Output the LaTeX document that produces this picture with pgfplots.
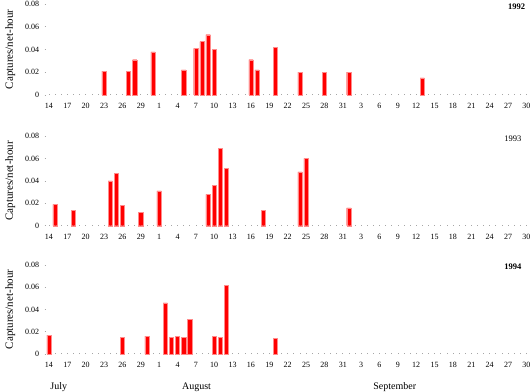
\documentclass[border=0pt]{standalone}
\usepackage{fontspec}
\setmainfont{Liberation Serif}
\usepackage{pgfplots}
\pgfplotsset{compat=1.18}
\usepackage{pgfplotstable}

% day index: 0 = July 14
\pgfplotstableread{
d v
9 0.021
13 0.021
14 0.031
17 0.038
22 0.022
24 0.041
25 0.047
26 0.053
27 0.040
33 0.031
34 0.022
37 0.042
41 0.020
45 0.020
49 0.020
61 0.015
}\dataA
\pgfplotstableread{
d v
1 0.019
4 0.014
10 0.040
11 0.047
12 0.018
15 0.012
18 0.031
26 0.028
27 0.036
28 0.069
29 0.051
35 0.014
41 0.048
42 0.060
49 0.016
}\dataB
\pgfplotstableread{
d v
0 0.017
12 0.015
16 0.016
19 0.046
20 0.015
21 0.016
22 0.015
23 0.031
27 0.016
28 0.015
29 0.062
37 0.014
}\dataC

\pgfplotsset{panel/.style={
  scale only axis, width=483.5pt,
  xmin=-0.7, xmax=78.3, ymin=0, ymax=0.08,
  axis line style={draw=none},
  tick pos=left,
  scaled y ticks=false,
  xtick={0,3,...,78},
  xticklabels={14,17,20,23,26,29,1,4,7,10,13,16,19,22,25,28,31,3,6,9,12,15,18,21,24,27,30},
  minor x tick num=2,
  ytick={0,0.02,0.04,0.06,0.08}, yticklabels={0,0.02,0.04,0.06,0.08},
  tick style={gray!70, line width=0.6pt},
  major tick length=1pt, minor tick length=1pt,
  tick label style={font=\fontsize{8}{9}\selectfont},
  xticklabel style={yshift=-5pt},
  yticklabel style={xshift=-2pt},
  ylabel={Captures/net-hour},
  ylabel style={font=\fontsize{11}{12}\selectfont, yshift=3pt},
  clip=false,
  /pgf/number format/assume math mode=true,
}}

\begin{document}
\begin{tikzpicture}
\path[use as bounding box] (0pt,0pt) rectangle (532pt,391pt);
\begin{axis}[panel, at={(44.7pt,296pt)}, anchor=south west, height=91pt]
\addplot[ybar, bar width=4.3pt, fill=red, draw=red!45, line width=0.4pt] table[x=d,y=v] {\dataA};
\node[font=\bfseries\fontsize{8.5}{9}\selectfont] at (axis cs:76.4,0.078) {1992};
\end{axis}
\begin{axis}[panel, at={(44.7pt,165.3pt)}, anchor=south west, height=89.7pt]
\addplot[ybar, bar width=4.3pt, fill=red, draw=red!45, line width=0.4pt] table[x=d,y=v] {\dataB};
\node[font=\fontsize{8.5}{9}\selectfont] at (axis cs:75.8,0.078) {1993};
\end{axis}
\begin{axis}[panel, at={(44.7pt,37pt)}, anchor=south west, height=89pt]
\addplot[ybar, bar width=4.3pt, fill=red, draw=red!45, line width=0.4pt] table[x=d,y=v] {\dataC};
\node[font=\bfseries\fontsize{8.5}{9}\selectfont] at (axis cs:75.8,0.078) {1994};
\node[font=\fontsize{10}{11}\selectfont] at (axis cs:1.6,-0.0295) {July};
\node[font=\fontsize{10}{11}\selectfont] at (axis cs:24.1,-0.0295) {August};
\node[font=\fontsize{10}{11}\selectfont] at (axis cs:56.5,-0.0295) {September};
\end{axis}
\end{tikzpicture}
\end{document}
